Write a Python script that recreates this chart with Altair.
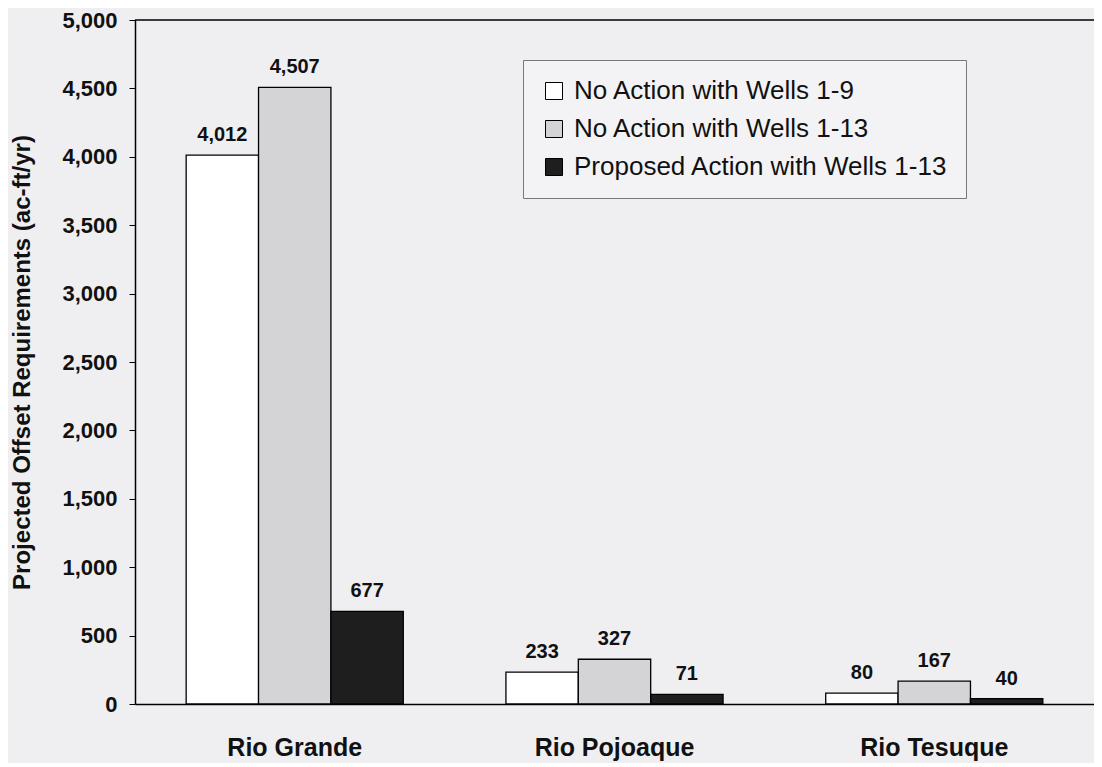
import altair as alt
import pandas as pd

rivers = ["Rio Grande", "Rio Pojoaque", "Rio Tesuque"]
series = ["No Action with Wells 1-9", "No Action with Wells 1-13", "Proposed Action with Wells 1-13"]
wells_1_9 = [4012, 233, 80]
wells_1_13 = [4507, 327, 167]
proposed_1_13 = [677, 71, 40]
colors = ["#ffffff", "#d4d4d6", "#1e1e1e"]
y_ticks = [0, 500, 1000, 1500, 2000, 2500, 3000, 3500, 4000, 4500, 5000]
y_max = 5000

rows = []
for s, vals in zip(series, [wells_1_9, wells_1_13, proposed_1_13]):
    for r, v in zip(rivers, vals):
        rows.append({"river": r, "series": s, "value": v})
df = pd.DataFrame(rows)

FONT = "Liberation Sans"

x = alt.X(
    "river:N", sort=rivers, title=None,
    scale=alt.Scale(paddingInner=0.321, paddingOuter=0.16),
    axis=alt.Axis(labelAngle=0, ticks=False, labelFont=FONT, labelFontSize=25,
                  labelFontWeight="bold", labelColor="#111111", labelBaseline="alphabetic",
                  labelPadding=51, domainColor="#000000", domainWidth=1.5),
)
xo = alt.XOffset("series:N", sort=series, scale=alt.Scale(paddingInner=0, paddingOuter=0))
y = alt.Y(
    "value:Q", scale=alt.Scale(domain=[0, y_max], nice=False),
    title="Projected Offset Requirements (ac-ft/yr)",
    axis=alt.Axis(values=y_ticks, format=",.0f", grid=False, labelFont=FONT, labelFontSize=22,
                  labelFontWeight="bold", labelColor="#111111", labelPadding=12,
                  tickSize=6, tickColor="#000000", domainColor="#000000", domainWidth=1.5,
                  titleFont=FONT, titleFontSize=24, titleFontWeight="bold", titleColor="#111111",
                  titleAngle=270, titleBaseline="bottom", titleAlign="center",
                  titleX=-101, titleY=342),
)

color = alt.Color(
    "series:N", sort=series,
    scale=alt.Scale(domain=series, range=colors),
    legend=alt.Legend(title=None, orient="none", legendX=388, legendY=40, padding=18,
                      fillColor="#f3f3f5", strokeColor="#777777",
                      symbolType="square", symbolSize=289, symbolStrokeColor="#000000",
                      symbolStrokeWidth=1, labelFont=FONT, labelFontSize=26, labelLimit=600,
                      labelColor="#111111", labelOffset=7, rowPadding=12),
)

bars = alt.Chart(df).mark_bar(stroke="#000000", strokeWidth=1.3).encode(
    x=x, xOffset=xo, y=y, color=color
)

labels = alt.Chart(df).mark_text(
    dy=-14, baseline="alphabetic", font=FONT, fontSize=20, fontWeight="bold", color="#111111"
).encode(
    x=x, xOffset=xo, y=y, text=alt.Text("value:Q", format=",")
)

top_line = alt.Chart(pd.DataFrame({"a": [0]})).mark_rule(color="#000000", strokeWidth=1.5).encode(
    y=alt.datum(y_max)
)

chart = alt.layer(bars, labels, top_line).properties(
    width=959, height=684,
    autosize=alt.AutoSizeParams(type="none"),
    padding={"left": 127, "top": 12, "right": 0, "bottom": 59},
    background="#efeff1",
).configure_view(stroke=None)

chart.save("out.html", embed_options={"renderer": "svg", "actions": False})
